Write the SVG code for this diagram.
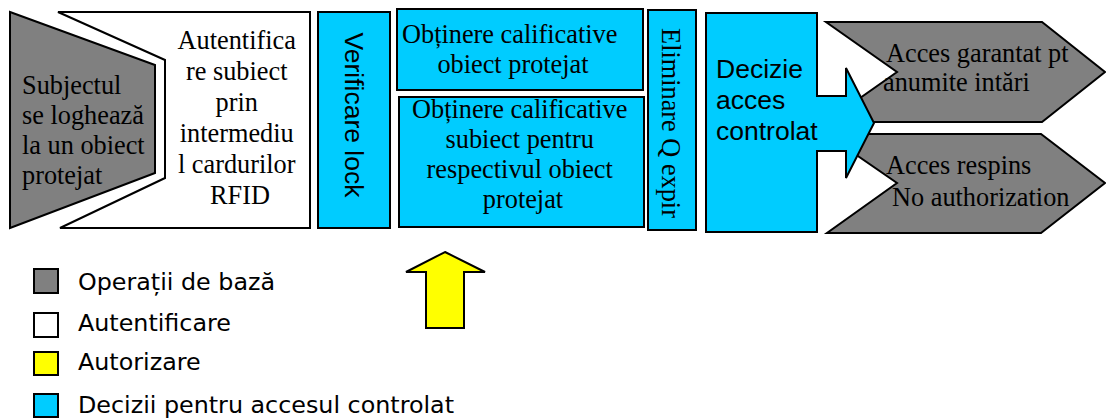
<svg xmlns="http://www.w3.org/2000/svg" width="1106" height="419" viewBox="0 0 1106 419">
  <style>
    .shape { stroke: #000; stroke-width: 2; stroke-linejoin: miter; }
    .gray { fill: #808080; }
    .white { fill: #ffffff; }
    .blue { fill: #00ccff; }
    .yellow { fill: #ffff00; }
    .serif { font-family: "Liberation Serif", "Times New Roman", serif; font-size: 26.3px; fill: #000; }
    .sans { font-family: "Liberation Sans", Arial, sans-serif; font-size: 26.5px; fill: #000; }
    .legend { font-family: "DejaVu Sans", Verdana, sans-serif; font-size: 23.8px; fill: #000; }
    .mid { text-anchor: middle; }
  </style>

  <rect width="1106" height="419" fill="#ffffff"/>

  <!-- Subject logs on -->
  <g id="subiect">
    <polygon class="shape gray" points="10,12 155,65 155,173 10,228"/>
    <text class="serif">
      <tspan x="22" y="94">Subjectul</tspan>
      <tspan x="22" y="124">se logheaz&#259;</tspan>
      <tspan x="22" y="154">la un obiect</tspan>
      <tspan x="22" y="184">protejat</tspan>
    </text>
  </g>

  <!-- RFID authentication -->
  <g id="autentificare">
    <polygon class="shape white" points="58,12 310,12 310,228 60,228 165,178 165,60"/>
    <text class="serif mid">
      <tspan x="240" y="48.5">Autentifica</tspan>
      <tspan x="240" y="79.5">re subiect</tspan>
      <tspan x="240" y="110.5">prin</tspan>
      <tspan x="240" y="141.5">intermediu</tspan>
      <tspan x="240" y="172.5">l cardurilor</tspan>
      <tspan x="240" y="203.5">RFID</tspan>
    </text>
  </g>

  <!-- Lock check -->
  <g id="verificare-lock">
    <rect class="shape blue" x="318" y="12" width="72" height="216"/>
    <text class="sans mid" transform="translate(345,115) rotate(90)" x="0" y="0">Verificare lock</text>
  </g>

  <!-- Object qualifiers -->
  <g id="calificative-obiect">
    <rect class="shape blue" x="397" y="9" width="246" height="81"/>
    <text class="serif mid">
      <tspan x="513" y="43">Ob&#539;inere calificative</tspan>
      <tspan x="513" y="73">obiect protejat</tspan>
    </text>
  </g>

  <!-- Subject qualifiers -->
  <g id="calificative-subiect">
    <rect class="shape blue" x="399" y="97" width="245" height="130"/>
    <text class="serif mid">
      <tspan x="523" y="118">Ob&#539;inere calificative</tspan>
      <tspan x="523" y="148">subiect pentru</tspan>
      <tspan x="523" y="178">respectivul obiect</tspan>
      <tspan x="523" y="208">protejat</tspan>
    </text>
  </g>

  <!-- Remove expired Q -->
  <g id="eliminare-q">
    <rect class="shape blue" x="648" y="10" width="48" height="220"/>
    <text class="serif mid" transform="translate(662,123) rotate(90)" x="0" y="0">Eliminare Q expir</text>
  </g>

  <!-- Outcomes -->
  <g id="acces-garantat">
    <polygon class="shape gray" points="826,22 1042,22 1105,72 1042,122 826,122 897,72"/>
    <text class="serif">
      <tspan x="886" y="62">Acces garantat pt</tspan>
      <tspan x="883" y="91">anumite int&#259;ri</tspan>
    </text>
  </g>

  <g id="acces-respins">
    <polygon class="shape gray" points="826,134 1041,134 1105,183 1041,233 827,233 897,183"/>
    <text class="serif">
      <tspan x="886" y="174">Acces respins</tspan>
      <tspan x="892" y="206">No authorization</tspan>
    </text>
  </g>

  <!-- Controlled access decision with its arrow -->
  <g id="decizie-acces">
    <polygon class="shape blue" points="706,13 817,13 817,96 846,96 846,68 874,123 846,178 846,151 817,151 817,232 706,232"/>
    <text class="sans">
      <tspan x="716" y="78">Decizie</tspan>
      <tspan x="716" y="109">acces</tspan>
      <tspan x="716" y="140">controlat</tspan>
    </text>
  </g>

  <!-- Authorization arrow -->
  <g id="connectors">
    <polygon class="shape yellow" points="445,252 485,272 464,272 464,328 426,328 426,272 406,272"/>
  </g>

  <!-- Legend -->
  <g id="legenda">
    <rect class="shape gray" x="34" y="269" width="24" height="24"/>
    <text class="legend" x="78" y="290">Opera&#539;ii de baz&#259;</text>
    <rect class="shape white" x="34" y="313" width="24" height="24"/>
    <text class="legend" x="78" y="331">Autentificare</text>
    <rect class="shape yellow" x="34" y="352" width="24" height="23"/>
    <text class="legend" x="78" y="370">Autorizare</text>
    <rect class="shape blue" x="34" y="394" width="24" height="23"/>
    <text class="legend" x="78" y="413">Decizii pentru accesul controlat</text>
  </g>
</svg>
